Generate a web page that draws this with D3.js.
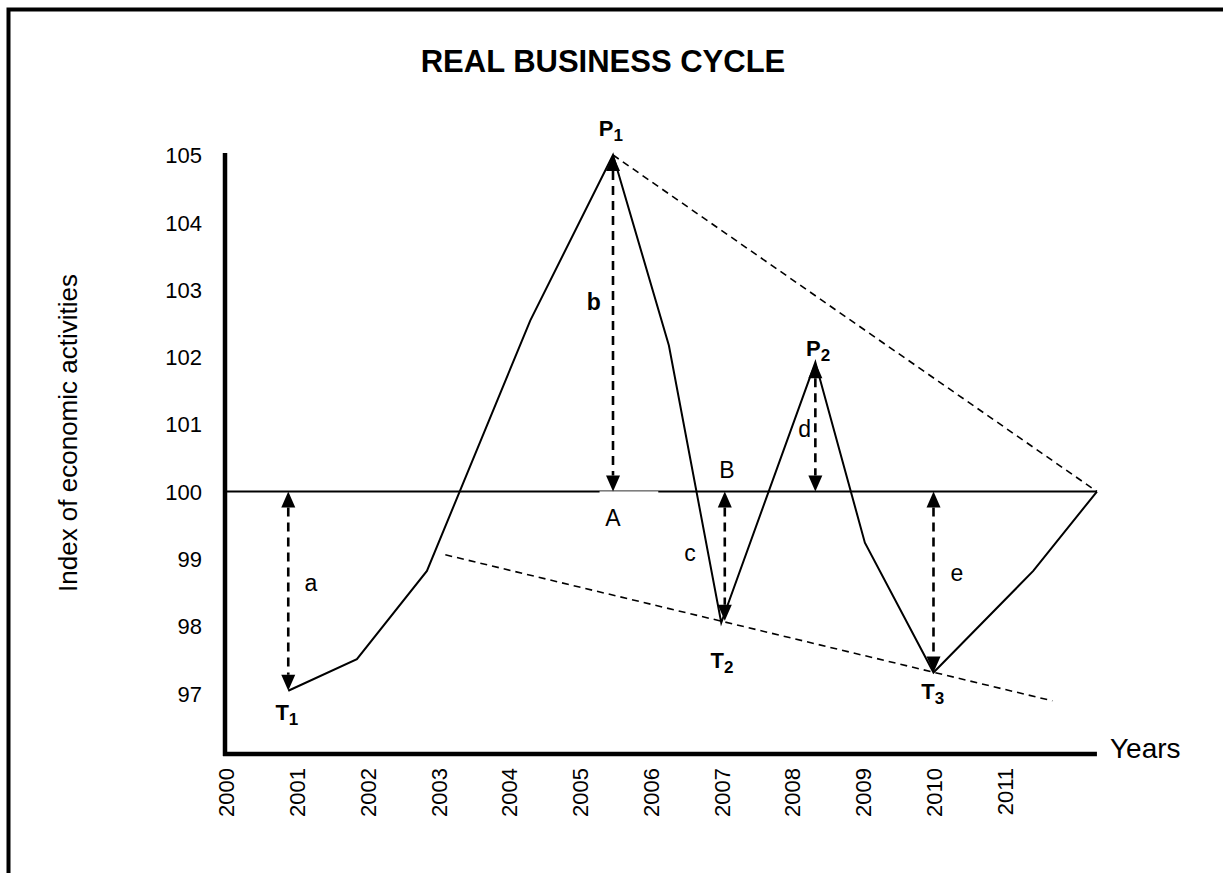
<!DOCTYPE html>
<html><head><meta charset="utf-8">
<script src="https://cdn.jsdelivr.net/npm/d3@7"></script>
<style>body{margin:0;background:#fff}svg{display:block}text{font-family:"Liberation Sans",Arial,sans-serif;fill:#000}</style>
</head><body>
<script>
// ---- data ----
const yearLabels = ["2000","2001","2002","2003","2004","2005","2006","2007","2008","2009","2010","2011"];
const yTicks = [97,98,99,100,101,102,103,104,105];
const cycleYear  = [2000.88, 2001.85, 2002.84, 2004.30, 2005.47, 2006.26, 2007.00, 2008.33, 2009.03, 2010.00, 2011.41, 2012.31];
const cycleIndex = [97.04,   97.51,   98.82,   102.54,  105.00,  102.17,  98.05,   101.92,  99.24,   97.31,   98.82,   100.00];
const upperTrendYear = [2005.47, 2012.31];
const upperTrendIndex = [105.00, 100.00];
const lowerTrendYear = [2003.10, 2011.68];
const lowerTrendIndex = [99.06, 96.89];
const arrowYear = [2000.88, 2005.47, 2007.05, 2008.33, 2010.00];
const arrowFrom = [100, 105, 100, 101.92, 100];
const arrowTo   = [97.04, 100, 98.08, 100, 97.31];
const noteText = ["a","b","A","B","c","d","e"];
const noteBold = [false,true,false,false,false,false,false];
const noteYear = [2001.20, 2005.20, 2005.47, 2007.08, 2006.56, 2008.18, 2010.33];
const noteIndex = [98.64, 102.82, 99.61, 100.33, 99.09, 100.93, 98.80];
const pointName = ["P","P","T","T","T"];
const pointSub = ["1","2","1","2","3"];
const pointYear = [2005.44, 2008.37, 2000.86, 2007.01, 2009.99];
const pointIndex = [105.40, 102.13, 96.72, 97.50, 97.04];
const baseline = 100;
const gapYears = [2005.28, 2006.11];

const W = 1223, H = 873;
const svg = d3.select("body").append("svg").attr("width", W).attr("height", H);

// outer frame
svg.append("rect").attr("x", 8.5).attr("y", 9.5).attr("width", 1400).attr("height", 1000)
  .attr("fill", "none").attr("stroke", "#000").attr("stroke-width", 4);

const x = d3.scaleLinear().domain([2000, 2012]).range([226, 226 + 12 * 70.75]);
const y = d3.scaleLinear().domain([96.1, 105]).range([754, 155]);
const xEnd = 2012.31;

// title
svg.append("text").attr("x", 603).attr("y", 72).attr("text-anchor", "middle")
  .attr("font-size", 31).attr("font-weight", "bold").text("REAL BUSINESS CYCLE");

// y axis title
svg.append("text").attr("transform", "translate(77,433) rotate(-90)").attr("text-anchor", "middle")
  .attr("font-size", 26).text("Index of economic activities");

// y tick labels via axis
const yAxis = d3.axisLeft(y).tickValues(yTicks).tickSize(0).tickPadding(0).tickFormat(d3.format("d"));
const gy = svg.append("g").attr("transform", "translate(202,0)").call(yAxis);
gy.select(".domain").remove();
gy.selectAll("text").attr("font-size", 22).attr("font-family", "Liberation Sans, Arial, sans-serif").attr("dy", "0.35em");

// x tick labels via axis
const xAxis = d3.axisBottom(x).tickValues(yearLabels.map(Number)).tickSize(0).tickFormat(d => String(d));
const gx = svg.append("g").attr("transform", "translate(0,768)").call(xAxis);
gx.select(".domain").remove();
gx.selectAll("text").attr("font-size", 22).attr("font-family", "Liberation Sans, Arial, sans-serif")
  .attr("transform", "rotate(-90)").attr("text-anchor", "end").attr("x", 0).attr("y", 0).attr("dy", "0.36em");

// axis lines
svg.append("line").attr("x1", 225).attr("x2", 225).attr("y1", y(105) - 2).attr("y2", 756)
  .attr("stroke", "#000").attr("stroke-width", 4.5);
svg.append("line").attr("x1", 223).attr("x2", x(xEnd)).attr("y1", 754).attr("y2", 754)
  .attr("stroke", "#000").attr("stroke-width", 4.5);
svg.append("text").attr("x", 1110).attr("y", 758).attr("font-size", 28).text("Years");

// baseline at 100
svg.append("line").attr("x1", 227).attr("x2", x(xEnd)).attr("y1", y(baseline)).attr("y2", y(baseline))
  .attr("stroke", "#000").attr("stroke-width", 1.8);
svg.append("rect").attr("x", x(gapYears[0])).attr("width", x(gapYears[1]) - x(gapYears[0]))
  .attr("y", y(baseline) - 0.2).attr("height", 2).attr("fill", "#fff");

// trend lines
const trend = d3.line().x(d => x(d[0])).y(d => y(d[1]));
svg.append("path").attr("d", trend(upperTrendYear.map((v, i) => [v, upperTrendIndex[i]])))
  .attr("fill", "none").attr("stroke", "#000").attr("stroke-width", 1.6).attr("stroke-dasharray", "7,5");
svg.append("path").attr("d", trend(lowerTrendYear.map((v, i) => [v, lowerTrendIndex[i]])))
  .attr("fill", "none").attr("stroke", "#000").attr("stroke-width", 1.6).attr("stroke-dasharray", "7,5");

// cycle line
const line = d3.line().x(d => x(d[0])).y(d => y(d[1]));
svg.append("path").attr("d", line(cycleYear.map((v, i) => [v, cycleIndex[i]])))
  .attr("fill", "none").attr("stroke", "#000").attr("stroke-width", 2).attr("stroke-linejoin", "miter");

// double arrows
const headL = 16, headW = 7;
arrowYear.forEach((yr, i) => {
  const ax = x(yr), y1 = y(arrowFrom[i]), y2 = y(arrowTo[i]);
  const top = Math.min(y1, y2), bot = Math.max(y1, y2);
  svg.append("line").attr("x1", ax).attr("x2", ax).attr("y1", top + headL).attr("y2", bot - headL)
    .attr("stroke", "#000").attr("stroke-width", 2.6).attr("stroke-dasharray", "9,6");
  svg.append("path").attr("d", `M${ax},${top}L${ax - headW},${top + headL}L${ax + headW},${top + headL}Z`).attr("fill", "#000");
  svg.append("path").attr("d", `M${ax},${bot}L${ax - headW},${bot - headL}L${ax + headW},${bot - headL}Z`).attr("fill", "#000");
});

// letter notes
noteText.forEach((t, i) => {
  svg.append("text").attr("x", x(noteYear[i])).attr("y", y(noteIndex[i])).attr("dy", "0.36em")
    .attr("text-anchor", "middle").attr("font-size", 23).attr("font-weight", noteBold[i] ? "bold" : "normal").text(t);
});

// peak / trough names
pointName.forEach((t, i) => {
  const tx = svg.append("text").attr("x", x(pointYear[i])).attr("y", y(pointIndex[i])).attr("dy", "0.36em")
    .attr("text-anchor", "middle").attr("font-size", 22).attr("font-weight", "bold");
  tx.append("tspan").text(t);
  tx.append("tspan").attr("font-size", 17).attr("dy", "0.3em").text(pointSub[i]);
});
</script>
</body></html>
